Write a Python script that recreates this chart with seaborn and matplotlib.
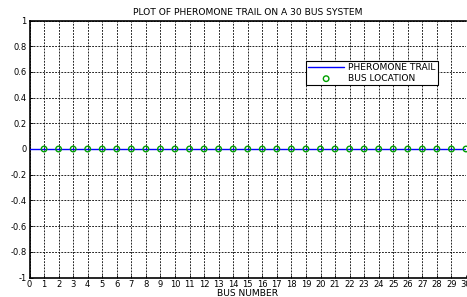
import numpy as np
import pandas as pd
import matplotlib
matplotlib.use("Agg")
import matplotlib.pyplot as plt
import seaborn as sns

bus_trail = list(range(0, 31))
pheromone = [0.0] * 31
bus_numbers = list(range(1, 31))
bus_location = [0.0] * 30
x_ticks = list(range(0, 31))
y_ticks = [-1, -0.8, -0.6, -0.4, -0.2, 0, 0.2, 0.4, 0.6, 0.8, 1]
y_labels = ["-1", "-0.8", "-0.6", "-0.4", "-0.2", "0", "0.2", "0.4", "0.6", "0.8", "1"]

sns.set_style("white")
plt.rcParams['font.family'] = ['DejaVu Sans']
plt.rcParams['text.color'] = 'black'
plt.rcParams['xtick.color'] = 'black'
plt.rcParams['ytick.color'] = 'black'
plt.rcParams['axes.labelcolor'] = 'black'
FS = 6.0
FS_T = 6.6

fig = plt.figure(figsize=(4.67, 2.97), dpi=100)
ax = fig.add_axes([29.5/467, (297-277.5)/297, 436.5/467, (277.5-20.5)/297])

trail_df = pd.DataFrame({"bus": bus_trail, "val": pheromone})
loc_df = pd.DataFrame({"bus": bus_numbers, "val": bus_location})

sns.lineplot(data=trail_df, x="bus", y="val", ax=ax, color="#0000ff", lw=1.0,
             label="PHEROMONE TRAIL", zorder=3)
sns.scatterplot(data=loc_df, x="bus", y="val", ax=ax, marker="o", s=16,
                facecolor="none", edgecolor="#00a000", linewidth=1.0,
                label="BUS LOCATION", zorder=4, clip_on=False)

ax.set_xlim(0, 30)
ax.set_ylim(-1, 1)
ax.set_xticks(x_ticks)
ax.set_xticklabels([str(t) for t in x_ticks], fontsize=FS)
ax.set_yticks(y_ticks)
ax.set_yticklabels(y_labels, fontsize=FS)
ax.tick_params(axis="both", length=2, width=0.6, direction="in", pad=2,
               bottom=True, left=True)
ax.grid(True, color="black", linestyle=(0, (2.2, 1.5)), linewidth=0.6)
for side in ["left", "bottom", "top"]:
    ax.spines[side].set_color("black")
    ax.spines[side].set_linewidth(1.2)
ax.spines["right"].set_visible(False)

ax.set_xlabel("BUS NUMBER", fontsize=FS_T, labelpad=0)
ax.set_ylabel("")
ax.set_title("PLOT OF PHEROMONE TRAIL ON A 30 BUS SYSTEM", fontsize=FS_T, pad=4)

leg = ax.legend(loc="upper left", bbox_to_anchor=(276/436.5, (277.5-60.5)/257),
                fontsize=FS_T, frameon=True, fancybox=False, edgecolor="black",
                framealpha=1, borderpad=0.25, labelspacing=0.25, handlelength=4.0,
                handletextpad=0.4, borderaxespad=0)
leg.get_frame().set_linewidth(0.8)

fig.savefig("out.png", dpi=100)
